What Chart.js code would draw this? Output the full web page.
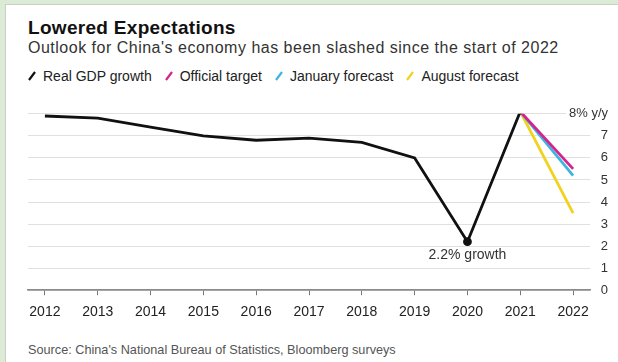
<!DOCTYPE html>
<html>
<head>
<meta charset="utf-8">
<title>Lowered Expectations</title>
<script src="https://cdn.jsdelivr.net/npm/chart.js@4.4.0/dist/chart.umd.min.js"></script>
<style>
  body { margin: 0; width: 618px; height: 362px; background: #dcebd5; position: relative; overflow: hidden;
         font-family: 'Liberation Sans', Arial, sans-serif; }
  .card { position: absolute; left: 5px; top: 4px; right: 0; bottom: 0; background: #fff;
          border-left: 1px solid #c9cfc6; border-top: 1px solid #c9cfc6; }
  .title { position: absolute; left: 28px; top: 18px; font-size: 19px; line-height: 19px; letter-spacing: 0.3px;
           font-weight: bold; color: #111; white-space: nowrap; }
  .subtitle { position: absolute; left: 28px; top: 40px; font-size: 16px; line-height: 16px; letter-spacing: 0.5px;
              color: #333; white-space: nowrap; }
  #legend { position: absolute; left: 28px; top: 69px; display: flex; font-size: 14px; line-height: 14px;
            color: #222; white-space: nowrap; }
  #legend .item { display: flex; align-items: center; margin-right: 13px; }
  #legend svg { margin-right: 7px; }
  .chart-box { position: absolute; left: 6px; top: 88px; width: 612px; height: 244px; }
  .source { position: absolute; left: 28px; top: 344px; font-size: 12.7px; line-height: 13px; color: #555; white-space: nowrap; }
</style>
</head>
<body>
<div class="card"></div>
<div class="title">Lowered Expectations</div>
<div class="subtitle">Outlook for China's economy has been slashed since the start of 2022</div>
<div id="legend"></div>
<div class="chart-box"><canvas id="gdpChart"></canvas></div>
<div class="source">Source: China's National Bureau of Statistics, Bloomberg surveys</div>
<script>
// annual real GDP growth, %
const years = [2012, 2013, 2014, 2015, 2016, 2017, 2018, 2019, 2020, 2021, 2022];
const gdpYears = [2012, 2013, 2014, 2015, 2016, 2017, 2018, 2019, 2020, 2021];
const gdpGrowth = [7.9, 7.8, 7.4, 7.0, 6.8, 6.9, 6.7, 6.0, 2.2, 8.1];

// 2022 outlooks, starting from the 2021 outturn
const forecastYears = [2021, 2022];
const officialTarget = [8.1, 5.5];
const januaryForecast = [8.1, 5.2];
const augustForecast = [8.1, 3.5];

const seriesNames = ['Real GDP growth', 'Official target', 'January forecast', 'August forecast'];
const seriesColors = ['#111111', '#d4238f', '#3db5e0', '#f2d21c'];
const yTicks = [0, 1, 2, 3, 4, 5, 6, 7, 8];
const lowYear = 2020;

const FONT = "'Liberation Sans', Arial, sans-serif";

function toPoints(xs, ys) {
  return xs.map((x, i) => ({ x: x, y: ys[i] }));
}

const seriesData = [
  toPoints(gdpYears, gdpGrowth),
  toPoints(forecastYears, officialTarget),
  toPoints(forecastYears, januaryForecast),
  toPoints(forecastYears, augustForecast)
];

const datasets = seriesNames.map((name, i) => ({
  label: name,
  data: seriesData[i],
  borderColor: seriesColors[i],
  backgroundColor: seriesColors[i],
  borderWidth: 2.8,
  tension: 0,
  pointRadius: ctx => (i === 0 && ctx.raw && ctx.raw.x === lowYear) ? 3 : 0,
  pointHoverRadius: 0
}));

// legend with slanted line swatches
const legendEl = document.getElementById('legend');
seriesNames.forEach((name, i) => {
  const item = document.createElement('span');
  item.className = 'item';
  item.innerHTML = '<svg width="8" height="10"><line x1="1" y1="9" x2="7" y2="1" stroke="' +
    seriesColors[i] + '" stroke-width="2.2"/></svg>';
  const txt = document.createElement('span');
  txt.textContent = name;
  item.appendChild(txt);
  legendEl.appendChild(item);
});

// "2.2% growth" note under the 2020 low
const lowLabel = {
  id: 'lowLabel',
  afterDatasetsDraw(chart) {
    const idx = gdpYears.indexOf(lowYear);
    const pt = chart.getDatasetMeta(0).data[idx];
    const ctx = chart.ctx;
    ctx.save();
    ctx.font = '14px ' + FONT;
    ctx.fillStyle = '#333';
    ctx.textAlign = 'center';
    ctx.textBaseline = 'middle';
    ctx.fillText(gdpGrowth[idx] + '% growth', pt.x, pt.y + 13);
    ctx.restore();
  }
};

new Chart(document.getElementById('gdpChart'), {
  type: 'line',
  data: { datasets: datasets },
  plugins: [lowLabel],
  options: {
    responsive: true,
    maintainAspectRatio: false,
    animation: false,
    devicePixelRatio: 1,
    layout: { padding: { left: 22, right: 10, top: 20, bottom: 2 } },
    plugins: {
      legend: { display: false },
      tooltip: { enabled: false }
    },
    scales: {
      x: {
        type: 'linear',
        min: 2011.68,
        max: 2022.32,
        afterBuildTicks: axis => { axis.ticks = years.map(v => ({ value: v })); },
        ticks: {
          callback: v => String(v),
          color: '#222',
          font: { family: FONT, size: 14 },
          padding: 9,
          maxRotation: 0,
          autoSkip: false
        },
        grid: { drawOnChartArea: false, color: '#777', tickLength: 5 },
        border: { display: true, color: '#8a8a8a', width: 1.5 }
      },
      y: {
        position: 'right',
        min: 0,
        max: 8,
        afterBuildTicks: axis => { axis.ticks = yTicks.map(v => ({ value: v })); },
        // keep a narrow gutter; mirrored labels are not clipped to it
        afterFit: axis => { axis.width = 18; },
        ticks: {
          callback: v => v === 8 ? '8% y/y' : String(v),
          color: '#333',
          font: { family: FONT, size: 13 },
          mirror: true,
          padding: 18,
          showLabelBackdrop: true,
          backdropColor: '#fff',
          backdropPadding: { left: 3, right: 0, top: 0, bottom: 0 }
        },
        grid: {
          drawTicks: false,
          color: ctx => ctx.tick && ctx.tick.value === 0 ? '#8a8a8a' : '#e0e0e0',
          lineWidth: ctx => ctx.tick && ctx.tick.value === 0 ? 1.5 : 1
        },
        border: { display: false }
      }
    }
  }
});
</script>
</body>
</html>
